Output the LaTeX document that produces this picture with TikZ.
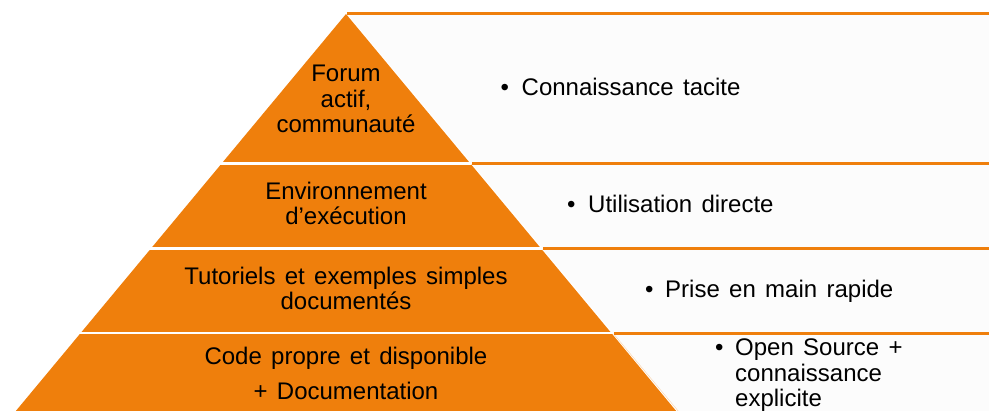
\documentclass[tikz,border=0pt]{standalone}
\usepackage{fontspec}
\setmainfont[WordSpace=1.4]{Liberation Sans}
\usetikzlibrary{positioning,calc}
\definecolor{pyrorange}{RGB}{239,127,12}
\definecolor{bandgray}{RGB}{252,252,252}

\begin{document}
\begin{tikzpicture}[x=1pt,y=-1pt,
    every node/.style={inner sep=0pt,font=\fontsize{24}{25.5}\selectfont},
    tier/.style={align=center,anchor=base},
    hint/.style={align=left,anchor=base west}]

    % page frame
    \useasboundingbox (0,0) rectangle (989,411);
    \clip (0,0) rectangle (989,411);

    %light bands on the right of the pyramid
    \fill[bandgray] (348,15) -- (989,15) -- (989,411) -- (678,411) -- cycle;
    \draw[pyrorange!35,thin] (613.7,334) -- (679,412);

    %orange lines separating the bands
    \draw[pyrorange,line width=3pt] (347,13.5) -- (989,13.5);
    \draw[pyrorange,line width=3pt] (472,163.7) -- (989,163.7);
    \draw[pyrorange,line width=3pt] (543,248.6) -- (989,248.6);
    \draw[pyrorange,line width=3pt] (614,333.2) -- (989,333.2);

    %the pyramid, cut into four tiers by white gaps
    \fill[pyrorange] (346,14) -- (10,418) -- (682,418) -- cycle;
    \draw[white,line width=2.5pt] (0,163.7) -- (471,163.7);
    \draw[white,line width=2.5pt] (0,248.6) -- (542,248.6);
    \draw[white,line width=2.5pt] (0,333.2) -- (613,333.2);

    %labels of the tiers (base = last line)
    \node[tier] (forum) at (346,133) {Forum\\actif,\\communauté};
    \node[tier] (env)   at (346,225) {Environnement\\d’exécution};
    \node[tier] (tuto)  at (346,310) {Tutoriels et exemples simples\\documentés};
    \node[tier] (code)  at (346,400) {Code propre et disponible\\[9.5pt]+ Documentation};

    %what each tier gives
    \node[hint] (tacite) at (500.5,96) {\makebox[21pt][l]{•}Connaissance tacite};
    \node[hint] (direct) at (567,213) {\makebox[21pt][l]{•}Utilisation directe};
    \node[hint] (rapide) at (645,298) {\makebox[20pt][l]{•}Prise en main rapide};
    \node[hint] (opensrc) at (715,407) {\makebox[20pt][l]{•}Open Source +\\
        \hspace*{20pt}connaissance\\\hspace*{20pt}explicite};
\end{tikzpicture}
\end{document}
